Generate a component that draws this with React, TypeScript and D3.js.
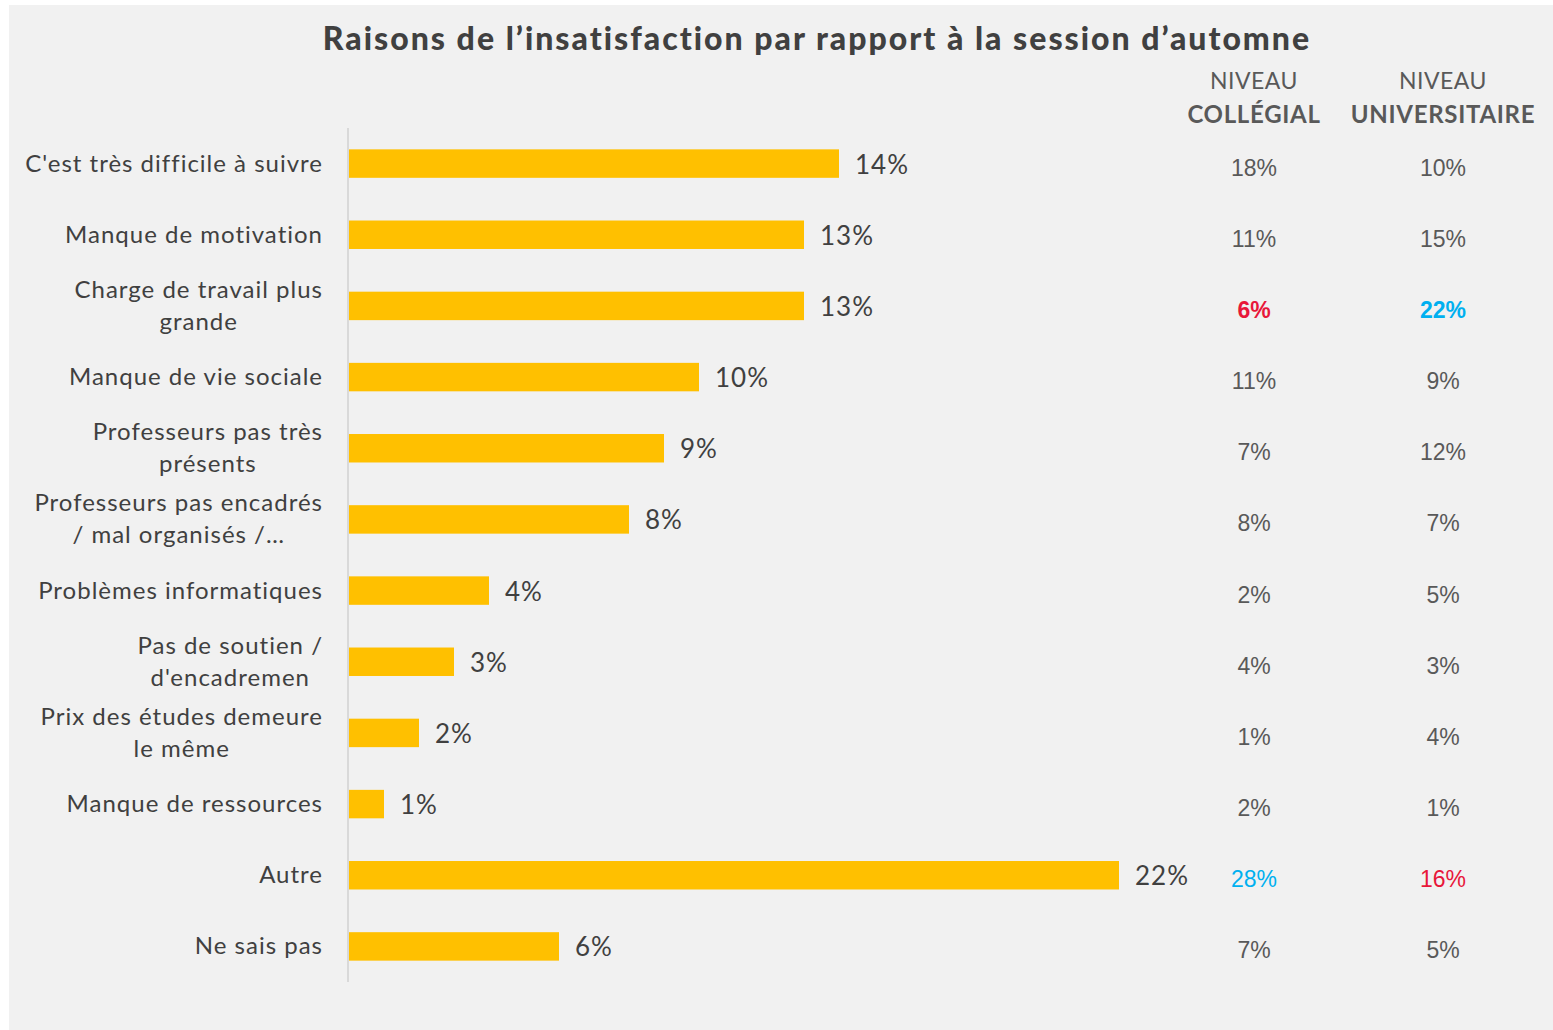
import React, { useEffect, useRef } from "react";
import * as d3 from "d3";

const categories: string[][] = [
  ["C'est très difficile à suivre"],
  ["Manque de motivation"],
  ["Charge de travail plus", "grande"],
  ["Manque de vie sociale"],
  ["Professeurs pas très", "présents"],
  ["Professeurs pas encadrés", "/ mal organisés /…"],
  ["Problèmes informatiques"],
  ["Pas de soutien /", "d'encadremen"],
  ["Prix des études demeure", "le même"],
  ["Manque de ressources"],
  ["Autre"],
  ["Ne sais pas"],
];
const totalValues = [14, 13, 13, 10, 9, 8, 4, 3, 2, 1, 22, 6];
const collegialValues = [18, 11, 6, 11, 7, 8, 2, 4, 1, 2, 28, 7];
const universitaireValues = [10, 15, 22, 9, 12, 7, 5, 3, 4, 1, 16, 5];
// highlight: "low" red, "high" blue, "-b" bold
const collegialHighlight = ["", "", "low-b", "", "", "", "", "", "", "", "high", ""];
const universitaireHighlight = ["", "", "high-b", "", "", "", "", "", "", "", "low", ""];
const title = "Raisons de l’insatisfaction par rapport à la session d’automne";
const colHeaders = [
  ["NIVEAU", "COLLÉGIAL"],
  ["NIVEAU", "UNIVERSITAIRE"],
];

const W = 1553;
const H = 1030;
const LABEL_FONT = "'Lato', 'Noto Sans', sans-serif";
const NUM_FONT = "'Liberation Sans', Arial, sans-serif";

export default function App() {
  const ref = useRef<SVGSVGElement>(null);
  useEffect(() => {
    const svg = d3.select(ref.current);
    svg.selectAll("*").remove();

    svg.append("rect").attr("x", 0).attr("y", 0).attr("width", W).attr("height", H).attr("fill", "#ffffff");
    svg.append("rect").attr("x", 9).attr("y", 5).attr("width", W - 9).attr("height", H - 5).attr("fill", "#f1f1f1");

    const x0 = 349;
    const x = d3.scaleLinear().domain([0, 1]).range([x0, x0 + 35]);
    const idx = categories.map((_, i) => String(i));
    const y = d3.scaleBand<string>().domain(idx).range([128, 982]).paddingInner(0.6).paddingOuter(0.3);

    // title
    svg.append("text")
      .attr("x", 817).attr("y", 50)
      .attr("text-anchor", "middle")
      .attr("font-family", LABEL_FONT)
      .attr("font-weight", 900)
      .attr("font-size", 32)
      .attr("letter-spacing", 2.0)
      .attr("fill", "#404040")
      .text(title);

    // axis line
    svg.append("line")
      .attr("x1", 348).attr("x2", 348).attr("y1", 128).attr("y2", 982)
      .attr("stroke", "#d9d9d9").attr("stroke-width", 2);

    const g = svg.append("g");
    categories.forEach((lines, i) => {
      const cy = (y(String(i)) as number) + y.bandwidth() / 2;
      g.append("rect")
        .attr("x", x(0)).attr("y", y(String(i)) as number)
        .attr("width", x(totalValues[i]) - x(0))
        .attr("height", y.bandwidth())
        .attr("fill", "#ffc000");
      g.append("text")
        .attr("x", x(totalValues[i]) + 16).attr("y", cy + 10)
        .attr("font-family", LABEL_FONT)
        .attr("font-size", 26)
        .attr("letter-spacing", 1)
        .attr("fill", "#404040")
        .text(totalValues[i] + "%");
      const n = lines.length;
      const first = g.append("text")
        .attr("x", 323)
        .attr("y", cy + 8 - ((n - 1) / 2) * 32)
        .attr("text-anchor", "end")
        .attr("font-family", LABEL_FONT)
        .attr("font-size", 24)
        .attr("letter-spacing", 1.0)
        .attr("fill", "#404040")
        .text(lines[0]);
      const w = (first.node() as SVGTextElement).getComputedTextLength();
      const center = 323 - w / 2;
      lines.slice(1).forEach((ln, kk) => {
        const k = kk + 1;
        g.append("text")
          .attr("x", center)
          .attr("y", cy + 8 + (k - (n - 1) / 2) * 32)
          .attr("text-anchor", "middle")
          .attr("font-family", LABEL_FONT)
          .attr("font-size", 24)
          .attr("letter-spacing", 1.0)
          .attr("fill", "#404040")
          .text(ln);
      });
    });

    // columns
    const colX = [1254, 1443];
    colHeaders.forEach((h, c) => {
      svg.append("text").attr("x", colX[c]).attr("y", 89).attr("text-anchor", "middle")
        .attr("font-family", LABEL_FONT).attr("font-size", 23).attr("fill", "#595959")
        .attr("letter-spacing", 0.5).text(h[0]);
      svg.append("text").attr("x", colX[c]).attr("y", 123).attr("text-anchor", "middle")
        .attr("font-family", LABEL_FONT).attr("font-weight", 700).attr("font-size", 24).attr("fill", "#595959")
        .attr("letter-spacing", 0.7).text(h[1]);
    });
    const colors: Record<string, string> = { low: "#e8173a", high: "#00b0f0", "": "#595959" };
    [collegialValues, universitaireValues].forEach((vals, c) => {
      const hl = c === 0 ? collegialHighlight : universitaireHighlight;
      vals.forEach((v, i) => {
        const cy = (y(String(i)) as number) + y.bandwidth() / 2;
        const key = hl[i].replace("-b", "");
        svg.append("text")
          .attr("x", colX[c]).attr("y", cy + 12)
          .attr("text-anchor", "middle")
          .attr("font-family", NUM_FONT)
          .attr("font-size", 23)
          .attr("font-weight", hl[i].endsWith("-b") ? 700 : 400)
          .attr("fill", colors[key])
          .text(v + "%");
      });
    });
  }, []);
  return (
    <div style={{ position: "absolute", left: 0, top: 0 }}>
      <svg ref={ref} width={W} height={H} style={{ display: "block" }} />
    </div>
  );
}
